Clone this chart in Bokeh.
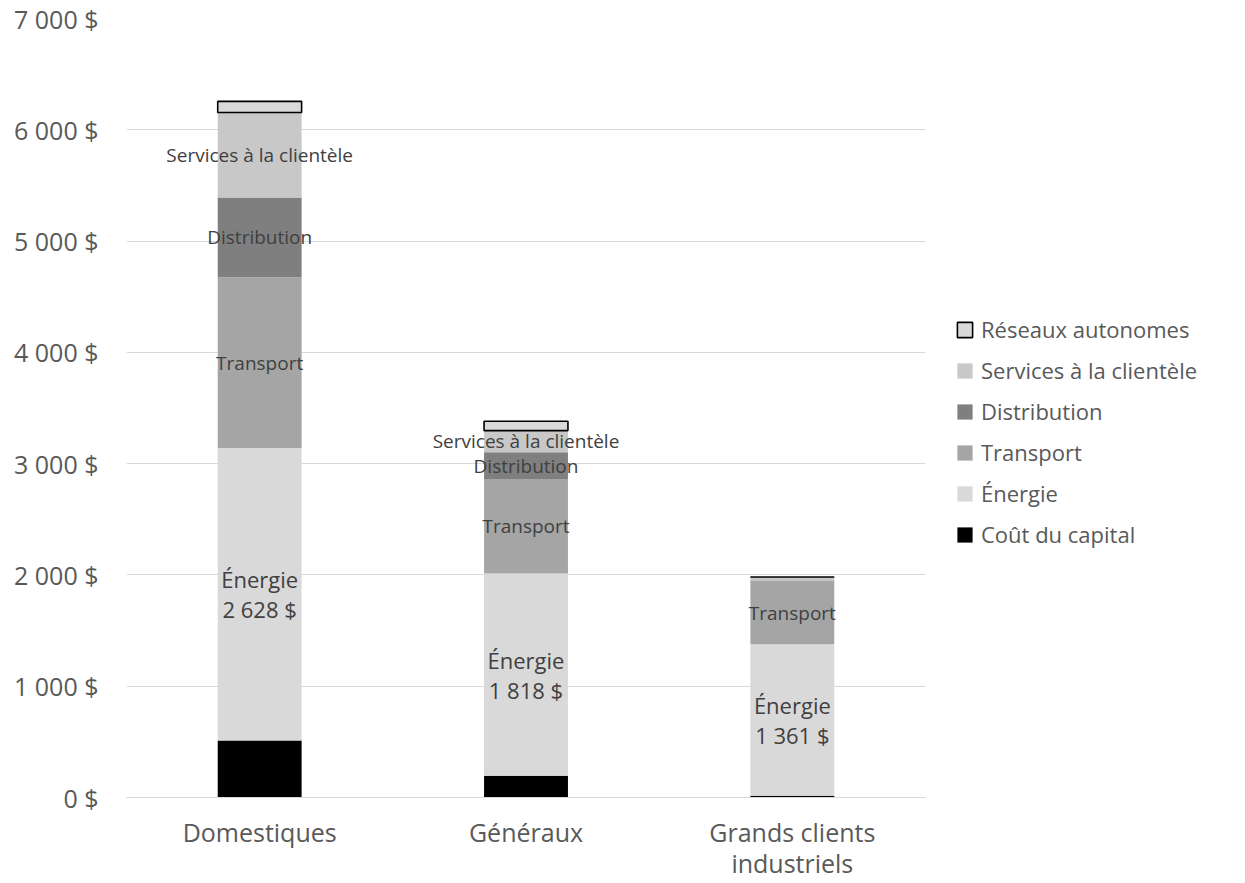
import numpy as np
from bokeh.plotting import figure
from bokeh.models import FactorRange, Range1d, Legend, LegendItem, FixedTicker, ColumnDataSource
from bokeh.core.properties import value
from bokeh.embed import file_html
from bokeh.resources import INLINE

# ---------------- data ----------------
categories = ["Domestiques", "Généraux", "Grands clients\nindustriels"]
series_names = ["Coût du capital", "Énergie", "Transport", "Distribution",
                "Services à la clientèle", "Réseaux autonomes"]
cout_capital = [512, 195, 15]
energie = [2628, 1818, 1361]
transport = [1536, 850, 565]
distribution = [715, 239, 8]
services = [764, 195, 32]
reseaux = [100, 84, 0]
y_ticks = [0, 1000, 2000, 3000, 4000, 5000, 6000, 7000]

series_values = [cout_capital, energie, transport, distribution, services, reseaux]
colors = ["#000000", "#d9d9d9", "#a5a5a5", "#7f7f7f", "#c8c8c8", "#d9d9d9"]
outline = [None, None, None, None, None, "#000000"]
show_label = [False, True, True, True, True, False]

FONT = "Open Sans"

p = figure(x_range=FactorRange(*categories, range_padding=0),
           y_range=Range1d(0, 7000),
           frame_width=799, frame_height=779,
           min_border_left=126, min_border_right=320,
           min_border_top=18, min_border_bottom=86,
           output_backend="svg", toolbar_location=None,
           background_fill_color="white", border_fill_color="white")
p.outline_line_color = None
p.xgrid.grid_line_color = None
p.ygrid.grid_line_color = "#d9d9d9"
p.ygrid.grid_line_width = 1

p.yaxis.ticker = FixedTicker(ticks=y_ticks)
p.yaxis.major_label_overrides = {t: (f"{t:,}".replace(",", " ") + " $") for t in y_ticks}
p.yaxis.axis_line_color = None
p.yaxis.major_tick_line_color = None
p.yaxis.minor_tick_line_color = None
p.yaxis.major_label_text_font = FONT
p.yaxis.major_label_text_font_size = "25px"
p.yaxis.major_label_text_color = "#595959"
p.yaxis.major_label_standoff = 22

p.xaxis.axis_line_color = "#d9d9d9"
p.xaxis.major_tick_line_color = None
p.xaxis.minor_tick_line_color = None
p.xaxis.major_label_text_font = FONT
p.xaxis.major_label_text_font_size = "25px"
p.xaxis.major_label_text_color = "#595959"
p.xaxis.major_label_standoff = 11
p.xaxis.major_label_text_line_height = 0.94

bottoms = np.zeros(len(categories))
renderers = []
label_x, label_y, label_t, label_s = [], [], [], []
for name, vals, col, oc, lab in zip(series_names, series_values, colors, outline, show_label):
    vals = np.array(vals, dtype=float)
    tops = bottoms + vals
    src = ColumnDataSource(dict(x=categories, bottom=bottoms.copy(), top=tops))
    r = p.vbar(x="x", bottom="bottom", top="top", width=0.315, source=src,
               fill_color=col, line_color=oc if oc else None,
               line_width=1.6 if oc else 0)
    renderers.append((name, r))
    if lab:
        for c, b, v in zip(categories, bottoms, vals):
            if v >= 100:
                label_x.append(c)
                label_y.append(b + v / 2)
                if name == "Énergie":
                    label_t.append(f"{name}\n{int(v):,}".replace(",", " ") + " $")
                    label_s.append("22px")
                else:
                    label_t.append(name)
                    label_s.append("19px")
    bottoms = tops

lsrc = ColumnDataSource(dict(x=label_x, y=label_y, t=label_t, s=label_s))
p.text(x="x", y="y", text="t", source=lsrc, text_font=value(FONT),
       text_font_size="s", text_color="#404040", text_align="center",
       text_baseline="middle", text_line_height=1.0)

items = [LegendItem(label=n, renderers=[r]) for n, r in reversed(renderers)]
legend = Legend(items=items, location=(30, 248), orientation="vertical",
                label_text_font=FONT, label_text_font_size="22px",
                label_text_color="#595959", glyph_width=19, glyph_height=19,
                label_standoff=7, spacing=11, padding=0, margin=0,
                border_line_color=None, background_fill_alpha=0)
p.add_layout(legend, "right")

open("out.html", "w").write(file_html(p, INLINE))
